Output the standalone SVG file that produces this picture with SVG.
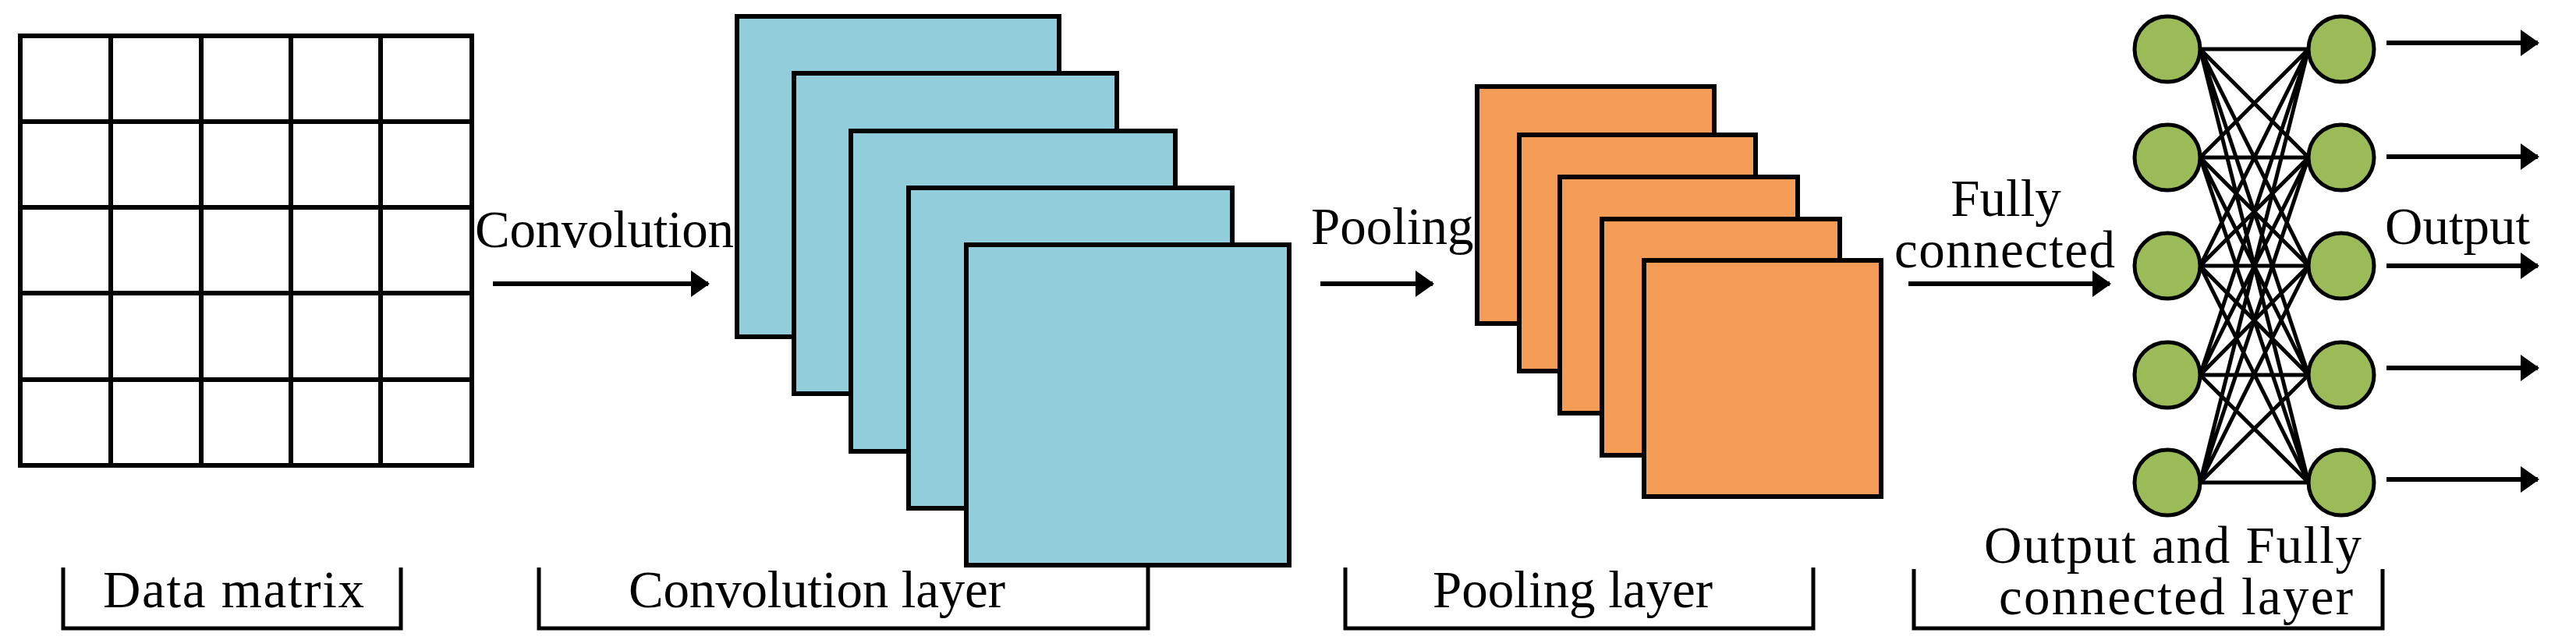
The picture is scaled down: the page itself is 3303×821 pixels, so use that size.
<svg xmlns="http://www.w3.org/2000/svg" width="3303" height="821" viewBox="0 0 3303 821">
<defs>
<marker id="ah" markerWidth="24" markerHeight="34" refX="22" refY="17" orient="auto" markerUnits="userSpaceOnUse" viewBox="0 0 24 34"><path d="M0,0 L24,17 L0,34 z" fill="#000"/></marker>
<style>
.t{font-family:"Liberation Serif","Times New Roman",serif;font-size:67px;fill:#000}
.ln{stroke:#000;stroke-width:6;fill:none}
.th{stroke:#000;stroke-width:5;fill:none}
.bl{fill:#92CDDC;stroke:#000;stroke-width:6}
.or{fill:#F59D56;stroke:#000;stroke-width:6}
.nd{fill:#9BBB59;stroke:#000;stroke-width:5}
.ar{stroke:#000;stroke-width:6;fill:none}
</style>
</defs>
<rect width="3303" height="821" fill="#fff"/>
<g id="data-matrix">
<rect x="26" y="46" width="579" height="551" class="ln"/>
<path class="ln" d="M142,46V597M258,46V597M373,46V597M488,46V597M26,156H605M26,266H605M26,376H605M26,487H605"/>
</g>
<g id="conv-layer">
<rect x="945" y="21" width="413" height="411" class="bl"/>
<rect x="1018" y="94" width="414" height="411" class="bl"/>
<rect x="1091" y="168" width="416" height="411" class="bl"/>
<rect x="1165" y="241" width="415" height="411" class="bl"/>
<rect x="1239" y="314" width="414" height="411" class="bl"/>
</g>
<g id="pool-layer">
<rect x="1894" y="111" width="304" height="304" class="or"/>
<rect x="1948" y="173" width="303" height="303" class="or"/>
<rect x="2000" y="227" width="305" height="303" class="or"/>
<rect x="2054" y="281" width="305" height="303" class="or"/>
<rect x="2108" y="334" width="304" height="303" class="or"/>
</g>
<g id="connectors">
<path class="ar" d="M632,364H908" marker-end="url(#ah)"/>
<path class="ar" d="M1693,364H1837" marker-end="url(#ah)"/>
<path class="ar" d="M2447,364H2705" marker-end="url(#ah)"/>
<path class="ar" d="M3060,55H3254" marker-end="url(#ah)"/>
<path class="ar" d="M3060,201H3254" marker-end="url(#ah)"/>
<path class="ar" d="M3060,341H3254" marker-end="url(#ah)"/>
<path class="ar" d="M3060,472H3254" marker-end="url(#ah)"/>
<path class="ar" d="M3060,615H3254" marker-end="url(#ah)"/>
<path class="th" d="M2821,63L2960,63M2821,63L2960,202M2821,63L2960,341M2821,63L2960,481M2821,63L2960,619
M2821,202L2960,63M2821,202L2960,202M2821,202L2960,341M2821,202L2960,481M2821,202L2960,619
M2821,341L2960,63M2821,341L2960,202M2821,341L2960,341M2821,341L2960,481M2821,341L2960,619
M2821,481L2960,63M2821,481L2960,202M2821,481L2960,341M2821,481L2960,481M2821,481L2960,619
M2821,619L2960,63M2821,619L2960,202M2821,619L2960,341M2821,619L2960,481M2821,619L2960,619"/>
</g>
<g id="fc-nodes">
<circle cx="2779" cy="63" r="42" class="nd"/>
<circle cx="2779" cy="202" r="42" class="nd"/>
<circle cx="2779" cy="341" r="42" class="nd"/>
<circle cx="2779" cy="481" r="42" class="nd"/>
<circle cx="2779" cy="619" r="42" class="nd"/>
<circle cx="3002" cy="63" r="42" class="nd"/>
<circle cx="3002" cy="202" r="42" class="nd"/>
<circle cx="3002" cy="341" r="42" class="nd"/>
<circle cx="3002" cy="481" r="42" class="nd"/>
<circle cx="3002" cy="619" r="42" class="nd"/>
</g>
<g id="labels">
<text class="t" x="609" y="317" textLength="332">Convolution</text>
<text class="t" x="1681" y="313">Pooling</text>
<text class="t" x="2572" y="277" text-anchor="middle">Fully</text>
<text class="t" x="2429" y="343" textLength="283">connected</text>
<text class="t" x="3058" y="313">Output</text>
</g>
<g id="brackets">
<path class="th" d="M81,728V806H514V728"/>
<path class="th" d="M691,728V806H1472V725"/>
<path class="th" d="M1725,728V806H2325V728"/>
<path class="th" d="M2454,730V806H3055V730"/>
<text class="t" x="132" y="779" textLength="335">Data matrix</text>
<text class="t" x="806" y="779" textLength="483">Convolution layer</text>
<text class="t" x="1837" y="779">Pooling layer</text>
<text class="t" x="2544" y="722" textLength="484">Output and Fully</text>
<text class="t" x="2563" y="788" textLength="454">connected layer</text>
</g>
</svg>
